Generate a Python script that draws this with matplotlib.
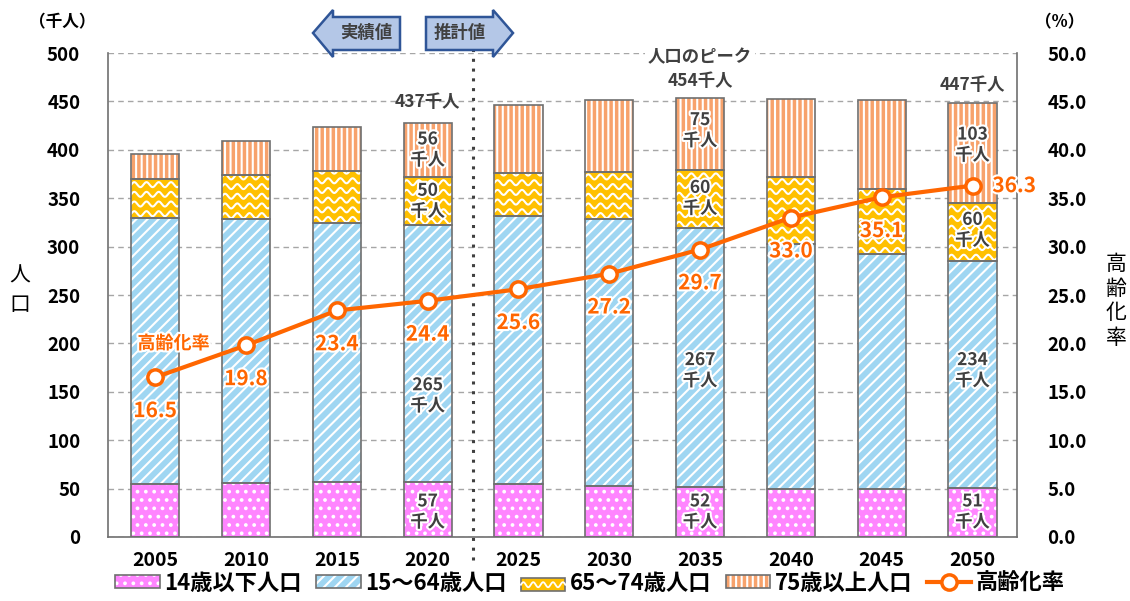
import numpy as np
import matplotlib
matplotlib.use('Agg')
import matplotlib.pyplot as plt
import matplotlib.patheffects as pe
from matplotlib.patches import Polygon, Rectangle
from matplotlib.lines import Line2D
from matplotlib.legend_handler import HandlerTuple, HandlerBase

plt.rcParams['font.family'] = ['Noto Sans CJK JP', 'DejaVu Sans']
plt.rcParams['hatch.linewidth'] = 1.5

# データ
years = ['2005', '2010', '2015', '2020', '2025', '2030', '2035', '2040', '2045', '2050']
age_0_14 = [55, 56, 57, 57, 55, 53, 52, 50, 50, 51]
age_15_64 = [275, 272, 267, 265, 277, 275, 267, 253, 242, 234]
age_65_74 = [40, 46, 54, 50, 44, 49, 60, 69, 68, 60]
age_75 = [26, 35, 46, 56, 70, 74, 75, 80, 91, 103]
rate = [16.5, 19.8, 23.4, 24.4, 25.6, 27.2, 29.7, 33.0, 35.1, 36.3]
series_names = ['14歳以下人口', '15〜64歳人口', '65〜74歳人口', '75歳以上人口', '高齢化率']

# 棒の中の数値ラベル (年インデックス, y位置, 文字)
seg_labels = [
    (3, 400, '56\n千人'), (3, 347, '50\n千人'), (3, 146, '265\n千人'), (3, 26, '57\n千人'),
    (6, 420, '75\n千人'), (6, 350, '60\n千人'), (6, 172, '267\n千人'), (6, 26, '52\n千人'),
    (9, 405, '103\n千人'), (9, 317, '60\n千人'), (9, 172, '234\n千人'), (9, 26, '51\n千人'),
]
total_labels = [(3, 449, '437千人'), (6, 471, '454千人'), (9, 467, '447千人')]

c_pink = '#ff85ff'
c_blue = '#9fd6f2'
c_gold = '#ffc000'
c_orange = '#f7a26c'
c_line = '#ff6600'
c_edge = '#6f6f6f'
c_text = '#404040'

fig = plt.figure(figsize=(11.3, 6.01), dpi=100)
ax = fig.add_axes([0.0956, 0.1065, 0.8044, 0.8053])
x = np.arange(len(years))
w = 0.53

b1 = np.array(age_0_14)
b2 = b1 + np.array(age_15_64)
b3 = b2 + np.array(age_65_74)

layers = [
    (age_0_14, 0, c_pink, '..'),
    (age_15_64, b1, c_blue, '///'),
    (age_65_74, b2, c_gold, None),
    (age_75, b3, c_orange, '|||'),
]
edge_bars = []
for vals, bot, col, hat in layers:
    ax.bar(x, vals, w, bottom=bot, color=col, hatch=hat, edgecolor='white', linewidth=0, zorder=2)
    eb = ax.bar(x, vals, w, bottom=bot, fill=False, edgecolor=c_edge, linewidth=1.2, zorder=4)
    edge_bars.append(eb)

# 波模様 (65〜74歳)
for i, p in enumerate(edge_bars[2].patches):
    x0 = p.get_x()
    xs = np.linspace(x0, x0 + w, 300)
    for base in np.arange(b2[i] + 4, b3[i] + 10, 10.0):
        ln, = ax.plot(xs, base + 2.6 * np.sin(2 * np.pi * (xs - x0) / 0.135),
                      color='white', lw=1.5, zorder=3)
        ln.set_clip_path(p)

ax.set_xlim(-0.52, 9.49)
ax.set_ylim(0, 500)
ax.set_yticks(np.arange(0, 501, 50))
ax.set_xticks(x)
ax.set_xticklabels(years)
ax.grid(axis='y', color='#a6a6a6', linestyle=(0, (4, 3)), linewidth=1, zorder=0)
ax.set_axisbelow(True)
ax.spines['top'].set_visible(False)
for s in ['left', 'right', 'bottom']:
    ax.spines[s].set_color(c_edge)
    ax.spines[s].set_linewidth(1.2)
ax.tick_params(axis='x', length=0, labelsize=14, pad=10)
ax.tick_params(axis='y', length=0, labelsize=13.5, pad=20)
for t in ax.get_xticklabels() + ax.get_yticklabels():
    t.set_fontweight('bold')

# 実績値/推計値の区切り
ax.plot([3.5, 3.5], [-24, 539], color=c_text, lw=2.2, linestyle=(0, (1, 2.2)),
        clip_on=False, zorder=5)

stroke = [pe.withStroke(linewidth=3, foreground='white')]
for i, yv, s in seg_labels:
    ax.text(x[i], yv, s, ha='center', va='center', fontsize=12.5, fontweight='bold',
            color=c_text, linespacing=1.2, zorder=6, path_effects=stroke)
for i, yv, s in total_labels:
    ax.text(x[i], yv, s, ha='center', va='center', fontsize=12.5, fontweight='bold',
            color=c_text, zorder=6)
ax.text(x[6], 496, '人口のピーク', ha='center', va='center', fontsize=12.5, fontweight='bold',
        color=c_text, zorder=6,
        bbox=dict(boxstyle='square,pad=0.15', fc='white', ec='none'))

# 高齢化率
ax2 = ax.twinx()
ax2.set_ylim(0, 50)
ax2.set_yticks(np.arange(0, 50.1, 5))
ax2.set_yticklabels(['%.1f' % v for v in np.arange(0, 50.1, 5)])
ax2.tick_params(axis='y', length=0, labelsize=13.5, pad=22)
for t in ax2.get_yticklabels():
    t.set_fontweight('bold')
for s in ax2.spines.values():
    s.set_visible(False)
ax2.plot(x, rate, color=c_line, lw=3, marker='o', markersize=11,
         markerfacecolor='white', markeredgecolor=c_line, markeredgewidth=2.5, zorder=5)
for i, r in enumerate(rate):
    off = (30, 0) if i == len(rate) - 1 else (0, -24)
    ax2.annotate('%.1f' % r, (x[i], r), xytext=off, textcoords='offset points',
                 ha='center', va='center', fontsize=15, fontweight='bold', color=c_line,
                 path_effects=stroke, zorder=6)
ax2.text(0.2, 20.0, '高齢化率', ha='center', va='center', fontsize=13, fontweight='bold',
         color=c_line, path_effects=stroke)

# 軸ラベル
fig.text(20 / 1130, 1 - 290 / 601, '人\n口', ha='center', va='center', fontsize=15,
         linespacing=1.45)
fig.text(1116 / 1130, 1 - 301 / 601, '高\n齢\n化\n率', ha='center', va='center',
         fontsize=15, linespacing=1.15)
fig.text(62 / 1130, 1 - 22 / 601, '（千人）', ha='center', va='center', fontsize=12,
         fontweight='bold')
fig.text(1060 / 1130, 1 - 22 / 601, '（%）', ha='center', va='center', fontsize=12,
         fontweight='bold')


# 矢印
def px(pts):
    return [(a / 1130, 1 - b / 601) for a, b in pts]


left_arrow = px([(313, 33), (333, 10), (333, 17), (400, 17), (400, 50), (333, 50), (333, 57)])
right_arrow = px([(426, 17), (493, 17), (493, 10), (513, 33), (493, 57), (493, 50), (426, 50)])
for pts in (left_arrow, right_arrow):
    fig.patches.append(Polygon(pts, closed=True, transform=fig.transFigure,
                               fc='#b4c7e7', ec='#2f5597', lw=1.8))
fig.text(366 / 1130, 1 - 33 / 601, '実績値', ha='center', va='center', fontsize=12.5,
         fontweight='bold', color=c_text)
fig.text(460 / 1130, 1 - 33 / 601, '推計値', ha='center', va='center', fontsize=12.5,
         fontweight='bold', color=c_text)


# 凡例
class WaveHandler(HandlerBase):
    def create_artists(self, legend, orig, xd, yd, width, height, fontsize, trans):
        r = Rectangle((xd, yd), width, height, fc=c_gold, ec=c_edge, lw=1.2, transform=trans)
        xs = np.linspace(xd, xd + width, 100)
        ln = Line2D(xs, yd + height / 2 + height * 0.2 * np.sin(2 * np.pi * xs / (width / 4.5)),
                    color='white', lw=1.3, transform=trans)
        return [r, ln]


def proxy(col, hat):
    return (Rectangle((0, 0), 1, 1, fc=col, hatch=hat, ec='white', lw=0),
            Rectangle((0, 0), 1, 1, fill=False, ec=c_edge, lw=1.2))


h_wave = Rectangle((0, 0), 1, 1)
h_line = Line2D([], [], color=c_line, lw=3, marker='o', markersize=11,
                markerfacecolor='white', markeredgecolor=c_line, markeredgewidth=2.5)
handles = [proxy(c_pink, '..'), proxy(c_blue, '///'), h_wave, proxy(c_orange, '|||'), h_line]
fig.legend(handles, series_names, loc='center', bbox_to_anchor=(0.522, 1 - 583 / 601),
           ncol=5, frameon=False, handlelength=2.0, handleheight=0.5, handletextpad=0.2,
           columnspacing=0.65, prop={'size': 16, 'weight': 'bold'},
           handler_map={tuple: HandlerTuple(ndivide=1), h_wave: WaveHandler()})

fig.savefig('out.png', dpi=100)
